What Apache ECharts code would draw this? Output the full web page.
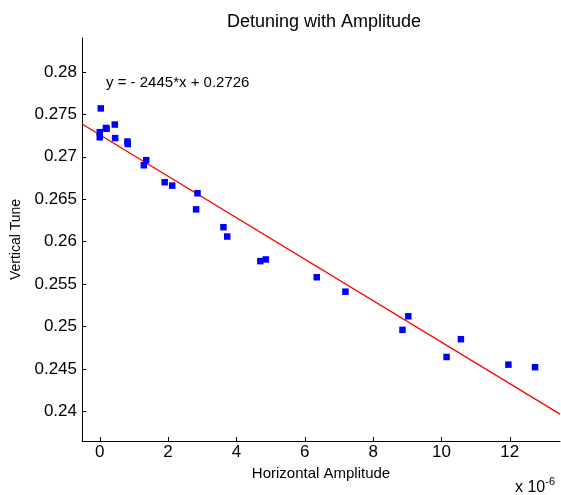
<!DOCTYPE html>
<html>
<head>
<meta charset="utf-8">
<script src="https://cdn.jsdelivr.net/npm/echarts@6/dist/echarts.min.js"></script>
<style>
html,body{margin:0;padding:0;background:#fff;}
#chart{width:561px;height:495px;}
</style>
</head>
<body>
<div id="chart"></div>
<script>
// Horizontal amplitude (units of 1e-6)
var ampX = [0.03, 0.00, 0.00, 0.18, 0.20, 0.44, 0.45, 0.81, 0.82, 1.29, 1.36, 1.90, 2.12, 2.82, 2.86,
            3.62, 3.73, 4.70, 4.86, 6.35, 7.19, 8.86, 9.03, 10.15, 10.57, 11.96, 12.74];
// Vertical tune
var tuneY = [0.2757, 0.2729, 0.2723, 0.2734, 0.2733, 0.2738, 0.2722, 0.2718, 0.2715, 0.2690, 0.2696,
             0.2670, 0.2666, 0.2638, 0.2657, 0.2617, 0.2606, 0.2577, 0.2579, 0.2558, 0.2541,
             0.2496, 0.2512, 0.2464, 0.2485, 0.2455, 0.2452];
// Fitted line endpoints (y = -2445*x + 0.2726, x in 1e-6)
var fitX = [-0.52, 13.47];
var fitY = [0.27387, 0.23967];
var xTicks = [0, 2, 4, 6, 8, 10, 12];
var xTickLabels = ['0', '2', '4', '6', '8', '10', '12'];
var yTicks = [0.24, 0.245, 0.25, 0.255, 0.26, 0.265, 0.27, 0.275, 0.28];
var yTickLabels = ['0.24', '0.245', '0.25', '0.255', '0.26', '0.265', '0.27', '0.275', '0.28'];
var titleText = 'Detuning with Amplitude';
var equationText = 'y = - 2445*x + 0.2726';

var FONT = '"Liberation Sans", Arial, Helvetica, sans-serif';
var pts = ampX.map(function (v, i) { return [v, tuneY[i]]; });
var fitPts = fitX.map(function (v, i) { return [v, fitY[i]]; });

function lookup(vals, labels, v) {
  for (var i = 0; i < vals.length; i++) if (Math.abs(vals[i] - v) < 1e-9) return labels[i];
  return '';
}

var chart = echarts.init(document.getElementById('chart'), null, {renderer: 'canvas'});
chart.setOption({
  animation: false,
  backgroundColor: '#ffffff',
  title: {
    text: titleText, left: 319, top: 8, textAlign: 'center',
    textStyle: {fontFamily: FONT, fontSize: 18, fontWeight: 'normal', color: '#000'}
  },
  grid: {left: 82, right: 1, top: 38, bottom: 54, containLabel: false, outerBoundsMode: 'none'},
  xAxis: {
    type: 'value', min: -0.52, max: 13.47,
    name: 'Horizontal Amplitude', nameLocation: 'middle', nameGap: 18,
    nameTextStyle: {fontFamily: FONT, fontSize: 15, color: '#000'},
    splitLine: {show: false},
    axisLine: {show: true, onZero: false, lineStyle: {color: '#000', width: 1}},
    axisTick: {show: true, inside: true, length: 4, customValues: xTicks, lineStyle: {color: '#000'}},
    axisLabel: {customValues: xTicks, margin: 3, fontFamily: FONT, fontSize: 17, color: '#000',
      formatter: function (v) { return lookup(xTicks, xTickLabels, v); }}
  },
  yAxis: {
    type: 'value', min: 0.2365, max: 0.284,
    name: 'Vertical Tune', nameLocation: 'middle', nameGap: 59, nameRotate: 90,
    nameTextStyle: {fontFamily: FONT, fontSize: 14, color: '#000'},
    splitLine: {show: false},
    axisLine: {show: true, onZero: false, lineStyle: {color: '#000', width: 1}},
    axisTick: {show: true, inside: true, length: 4, customValues: yTicks, lineStyle: {color: '#000'}},
    axisLabel: {customValues: yTicks, margin: 5, fontFamily: FONT, fontSize: 17, color: '#000',
      formatter: function (v) { return lookup(yTicks, yTickLabels, v); }}
  },
  graphic: [
    {type: 'text', left: 106, top: 75,
      style: {text: equationText, fontFamily: FONT, fontSize: 15, fill: '#000'}},
    {type: 'text', left: 515, top: 476,
      style: {text: 'x 10{s|-6}', fontFamily: FONT, fontSize: 16, fill: '#000',
        rich: {s: {fontFamily: FONT, fontSize: 11, verticalAlign: 'top', padding: [0, 0, 12, 0]}}}}
  ],
  series: [
    {type: 'line', data: fitPts, showSymbol: false, symbol: 'none', z: 1,
      lineStyle: {color: '#ff0000', width: 1.3}},
    {type: 'scatter', data: pts, symbol: 'rect', symbolSize: 6.5, z: 2,
      itemStyle: {color: '#0000ff', opacity: 1}}
  ]
});
</script>
</body>
</html>
